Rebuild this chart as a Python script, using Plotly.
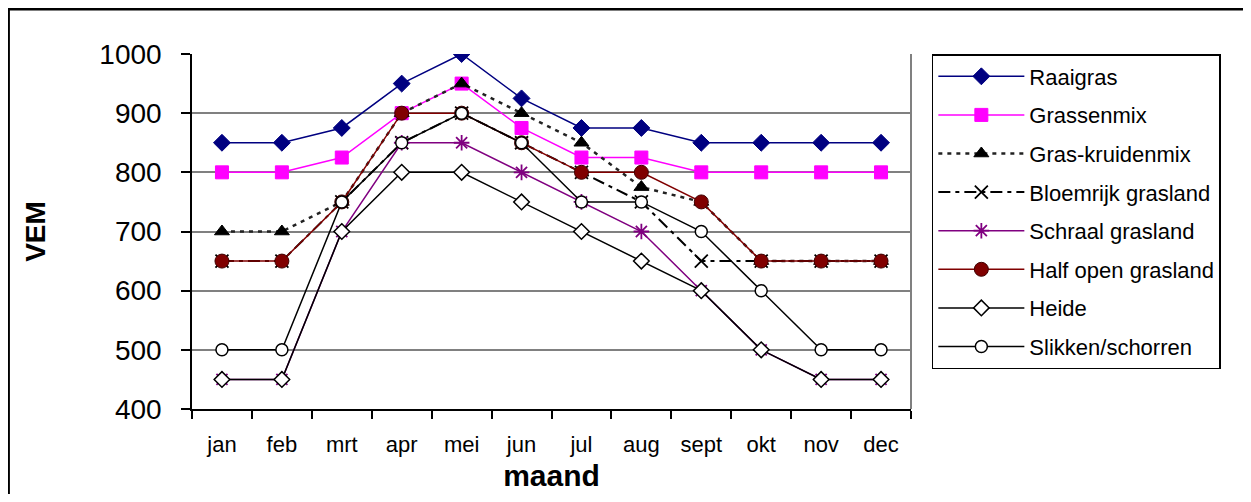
import plotly.graph_objects as go

months = ["jan", "feb", "mrt", "apr", "mei", "jun", "jul", "aug", "sept", "okt", "nov", "dec"]

raaigras = [850, 850, 875, 950, 1000, 925, 875, 875, 850, 850, 850, 850]
grassenmix = [800, 800, 825, 900, 950, 875, 825, 825, 800, 800, 800, 800]
gras_kruidenmix = [700, 700, 750, 900, 950, 900, 850, 775, 750, 650, 650, 650]
bloemrijk = [650, 650, 750, 850, 900, 850, 800, 750, 650, 650, 650, 650]
schraal = [450, 450, 700, 850, 850, 800, 750, 700, 600, 500, 450, 450]
half_open = [650, 650, 750, 900, 900, 850, 800, 800, 750, 650, 650, 650]
heide = [450, 450, 700, 800, 800, 750, 700, 650, 600, 500, 450, 450]
slikken = [500, 500, 750, 850, 900, 850, 750, 750, 700, 600, 500, 500]

y_ticks = [400, 500, 600, 700, 800, 900, 1000]

FONT = "Liberation Sans, Arial, sans-serif"

series = [
    ("Raaigras", raaigras, dict(color="#000080", width=1.5, dash="solid"),
     dict(symbol="diamond", size=13, color="#000080", line=dict(color="#000080", width=1))),
    ("Grassenmix", grassenmix, dict(color="#FF00FF", width=1.5, dash="solid"),
     dict(symbol="square", size=13, color="#FF00FF", line=dict(color="#FF00FF", width=1))),
    ("Gras-kruidenmix", gras_kruidenmix, dict(color="#222222", width=2.5, dash="4px,5px"),
     dict(symbol="triangle-up", size=13, color="#000000", line=dict(color="#000000", width=1))),
    ("Bloemrijk grasland", bloemrijk, dict(color="#000000", width=2, dash="12px,5px,4px,5px"),
     dict(symbol="x-thin-open", size=13, color="#000000", line=dict(color="#000000", width=1.8))),
    ("Schraal grasland", schraal, dict(color="#800080", width=1.5, dash="solid"),
     dict(symbol="asterisk-open", size=13, color="#800080", line=dict(color="#800080", width=1.8))),
    ("Half open grasland", half_open, dict(color="#800000", width=1.5, dash="solid"),
     dict(symbol="circle", size=14, color="#800000", line=dict(color="#400000", width=1))),
    ("Heide", heide, dict(color="#000000", width=1.5, dash="solid"),
     dict(symbol="diamond", size=12, color="#FFFFFF", line=dict(color="#000000", width=1.5))),
    ("Slikken/schorren", slikken, dict(color="#000000", width=1.5, dash="solid"),
     dict(symbol="circle", size=12, color="#FFFFFF", line=dict(color="#000000", width=1.5))),
]

fig = go.Figure()
for i, (name, vals, line, marker) in enumerate(series):
    fig.add_trace(go.Scatter(
        x=months, y=vals, name=name, mode="lines+markers",
        line=line, marker=marker, legendgroup=f"g{i}",
    ))

fig.update_layout(
    width=1235, height=486,
    margin=dict(l=184, r=332, t=46, b=85, autoexpand=False),
    paper_bgcolor="white", plot_bgcolor="white",
    font=dict(family=FONT, color="black"),
    showlegend=True,
    legend=dict(
        x=1.029, y=1.0, xanchor="left", yanchor="top",
        bordercolor="black", borderwidth=1.5, bgcolor="white",
        font=dict(family=FONT, size=22, color="black"),
        itemwidth=86, traceorder="grouped", tracegroupgap=7,
    ),
    shapes=[
        dict(type="rect", xref="paper", yref="paper",
             x0=-0.255, x1=1.48, y0=-0.3, y1=1.126,
             line=dict(color="black", width=2.5), layer="below"),
        dict(type="line", xref="paper", yref="paper",
             x0=1, x1=1, y0=0, y1=1, line=dict(color="#808080", width=2)),
    ],
)

fig.update_xaxes(
    type="category", range=[-0.5, 11.5],
    showline=True, linecolor="black", linewidth=1.5,
    ticks="outside", tickson="boundaries", ticklen=8, tickcolor="black", tickwidth=1.5,
    showgrid=False, zeroline=False,
    tickfont=dict(family=FONT, size=22, color="black"),
    ticklabelstandoff=15,
    title=dict(text="<b>maand</b>", font=dict(family=FONT, size=30, color="black"), standoff=9),
)
fig.update_yaxes(
    range=[400, 1000], tickvals=y_ticks,
    showline=True, linecolor="black", linewidth=1.5,
    ticks="outside", ticklen=9, tickcolor="black", tickwidth=1.5,
    showgrid=True, gridcolor="#808080", gridwidth=1.5, zeroline=False,
    tickfont=dict(family=FONT, size=28, color="black"),
    ticklabelstandoff=14,
    title=dict(text="<b>VEM</b>", font=dict(family=FONT, size=28, color="black"), standoff=46),
)

fig.write_html("out.html")
